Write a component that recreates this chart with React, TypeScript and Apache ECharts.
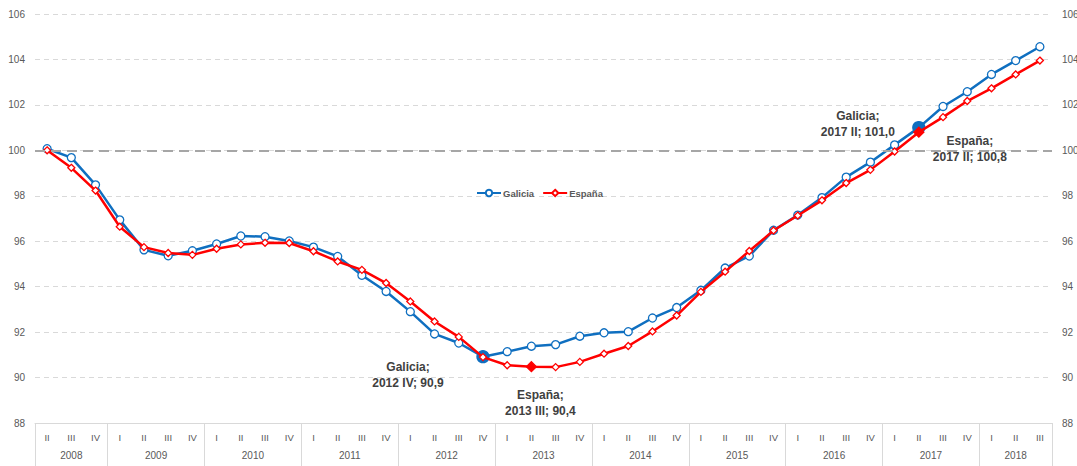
import React, { useEffect, useRef } from "react";
import * as echarts from "echarts";

const years = [2008, 2009, 2010, 2011, 2012, 2013, 2014, 2015, 2016, 2017, 2018];
const quartersPerYear = [3, 4, 4, 4, 4, 4, 4, 4, 4, 4, 3];
const firstQuarterOfYear = [1, 0, 0, 0, 0, 0, 0, 0, 0, 0, 0];
const romanQuarters = ["I", "II", "III", "IV"];

const galicia = [
  100.07, 99.68, 98.48,
  96.94, 95.62, 95.36, 95.58,
  95.88, 96.23, 96.2, 96.01,
  95.74, 95.33, 94.5, 93.79,
  92.9, 91.92, 91.52, 90.92,
  91.14, 91.38, 91.45, 91.82,
  91.97, 92.02, 92.62, 93.08,
  93.84, 94.82, 95.35, 96.48,
  97.15, 97.92, 98.82, 99.48,
  100.24, 101.0, 101.93, 102.58,
  103.34, 103.95, 104.56,
];

const espana = [
  100.0, 99.23, 98.23,
  96.64, 95.74, 95.48, 95.4,
  95.67, 95.86, 95.93, 95.92,
  95.56, 95.11, 94.74, 94.16,
  93.35, 92.47, 91.79, 90.9,
  90.54, 90.48, 90.46, 90.69,
  91.05, 91.39, 92.03, 92.73,
  93.77, 94.66, 95.57, 96.47,
  97.13, 97.8, 98.56, 99.14,
  99.95, 100.8, 101.46, 102.17,
  102.73, 103.34, 103.95,
];

const yMin = 88;
const yMax = 106;
const yInterval = 2;
const referenceLevel = 100;

const galiciaHighlights = [
  { index: 18, text: "Galicia;\n2012 IV; 90,9", offset: [-75, 18] },
  { index: 36, text: "Galicia;\n2017 II; 101,0", offset: [-61, -4] },
];
const espanaHighlights = [
  { index: 20, text: "España;\n2013 III; 90,4", offset: [9, 36] },
  { index: 36, text: "España;\n2017 II; 100,8", offset: [51, 17] },
];

const BLUE = "#0F6FC0";
const RED = "#FF0000";
const AXIS_TEXT = "#595959";
const GRID_GRAY = "#D9D9D9";

const quarterLabels: string[] = [];
const yearCenters: number[] = [];
const yearBoundaries: number[] = [];
{
  let pos = 0;
  years.forEach((y, i) => {
    const n = quartersPerYear[i];
    yearBoundaries.push(pos - 0.5);
    yearCenters.push(pos + (n - 1) / 2);
    for (let q = 0; q < n; q++) quarterLabels.push(romanQuarters[firstQuarterOfYear[i] + q]);
    pos += n;
  });
  yearBoundaries.push(pos - 0.5);
}
const categories = quarterLabels.map((q, i) => `${i}-${q}`);

function buildData(values: number[], highlights: any[], color: string, symbol: string, size: number) {
  return values.map((v, i) => {
    const h = highlights.find((x) => x.index === i);
    if (!h) return v;
    return {
      value: v,
      symbol,
      symbolSize: size,
      itemStyle: { color, borderColor: color },
      label: {
        show: true,
        position: "inside",
        offset: h.offset,
        formatter: h.text,
        align: "center",
        verticalAlign: "middle",
        fontFamily: "'Liberation Sans', Arial, sans-serif",
        fontWeight: "bold",
        fontSize: 12,
        lineHeight: 16,
        color: "#404040",
      },
    };
  });
}

export default function App() {
  const ref = useRef<HTMLDivElement>(null);
  useEffect(() => {
    if (!ref.current) return;
    const chart = echarts.init(ref.current, undefined, { renderer: "svg" });
    const lastIdx = quarterLabels.length - 1;
    chart.setOption({
      animation: false,
      textStyle: { fontFamily: "'Liberation Sans', Arial, sans-serif" },
      grid: { left: 35, right: 25, top: 14, bottom: 43, containLabel: false, outerBoundsMode: "none" },
      legend: {
        left: 471,
        top: 183,
        itemWidth: 24,
        itemHeight: 8,
        itemGap: 8,
        textStyle: { fontSize: 9.5, fontWeight: "bold", color: AXIS_TEXT, padding: [0, 0, 0, -3] },
        data: ["Galicia", "España"],
      },
      xAxis: [
        {
          type: "category",
          data: categories,
          boundaryGap: true,
          position: "bottom",
          axisLine: { show: true, lineStyle: { color: GRID_GRAY, width: 1 } },
          axisTick: { show: false },
          axisLabel: {
            interval: 0,
            margin: 9,
            fontSize: 9.5,
            color: AXIS_TEXT,
            formatter: (_v: string, i: number) => quarterLabels[i],
          },
          splitLine: { show: false },
        },
        {
          type: "value",
          min: -0.5,
          max: lastIdx + 0.5,
          position: "bottom",
          axisLine: { show: false },
          axisTick: {
            show: true,
            customValues: yearBoundaries,
            length: 44,
            lineStyle: { color: GRID_GRAY, width: 1 },
          },
          axisLabel: {
            show: true,
            customValues: yearCenters,
            margin: 27,
            fontSize: 10,
            color: AXIS_TEXT,
            formatter: (v: number) => {
              const k = yearCenters.findIndex((c) => Math.abs(c - v) < 1e-6);
              return k >= 0 ? String(years[k]) : "";
            },
          },
          splitLine: { show: false },
        },
      ],
      yAxis: [
        {
          type: "value",
          min: yMin,
          max: yMax,
          interval: yInterval,
          position: "left",
          axisLine: { show: false },
          axisTick: { show: false },
          axisLabel: { margin: 10, fontSize: 10, color: AXIS_TEXT },
          splitLine: { show: true, lineStyle: { color: GRID_GRAY, width: 1, type: [5, 4] } },
        },
        {
          type: "value",
          min: yMin,
          max: yMax,
          interval: yInterval,
          position: "right",
          axisLine: { show: false },
          axisTick: { show: false },
          axisLabel: { margin: 10, fontSize: 10, color: AXIS_TEXT },
          splitLine: { show: false },
        },
      ],
      series: [
        {
          name: "Galicia",
          type: "line",
          xAxisIndex: 0,
          yAxisIndex: 0,
          data: buildData(galicia, galiciaHighlights, BLUE, "circle", 12),
          symbol: "circle",
          symbolSize: 8,
          showAllSymbol: true,
          lineStyle: { color: BLUE, width: 2.5 },
          itemStyle: { color: "#FFFFFF", borderColor: BLUE, borderWidth: 1.3 },
          markLine: {
            silent: true,
            symbol: ["none", "none"],
            label: { show: false },
            lineStyle: { color: "#A6A6A6", width: 2, type: [10, 6] },
            data: [{ yAxis: referenceLevel }],
          },
          z: 2,
        },
        {
          name: "España",
          type: "line",
          xAxisIndex: 0,
          yAxisIndex: 0,
          data: buildData(espana, espanaHighlights, RED, "diamond", 10),
          symbol: "diamond",
          symbolSize: 7,
          showAllSymbol: true,
          lineStyle: { color: RED, width: 2.5 },
          itemStyle: { color: "#FFFFFF", borderColor: RED, borderWidth: 1.3 },
          z: 3,
        },
      ],
    });
    return () => chart.dispose();
  }, []);
  return (
    <div
      ref={ref}
      style={{ position: "fixed", left: 0, top: 0, width: 1077, height: 466, background: "#fff" }}
    />
  );
}
